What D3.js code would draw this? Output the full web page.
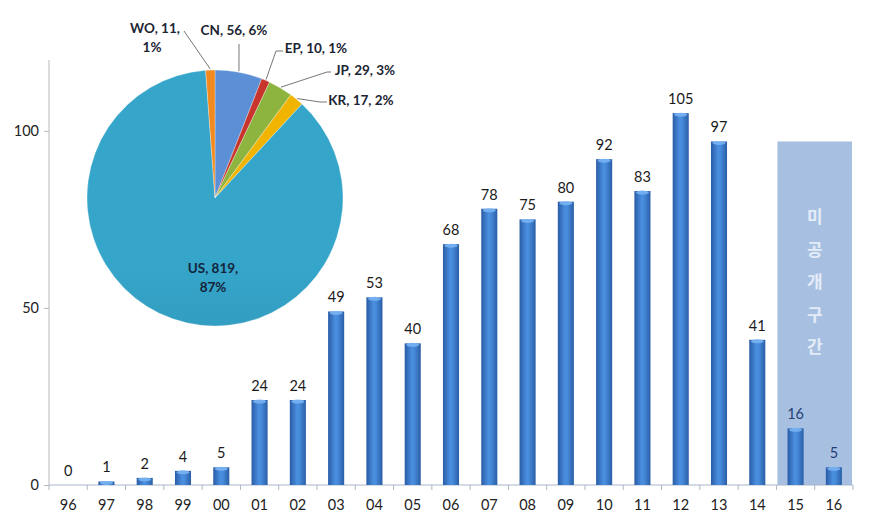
<!DOCTYPE html>
<html><head><meta charset="utf-8">
<script src="https://cdn.jsdelivr.net/npm/d3@7/dist/d3.min.js"></script>
<style>body{margin:0;background:#fff}svg{display:block}</style>
</head><body>
<svg id="c" width="871" height="523"></svg>
<script>
const years = ["96","97","98","99","00","01","02","03","04","05","06","07","08","09","10","11","12","13","14","15","16"];
const counts = [0,1,2,4,5,24,24,49,53,40,68,78,75,80,92,83,105,97,41,16,5];
const undisclosedYears = ["15","16"];
const undisclosedTop = 97;
const undisclosedText = ["미","공","개","구","간"];
const yTicks = [0,50,100];
const pieLabels = ["CN","EP","JP","KR","US","WO"];
const pieValues = [56,10,29,17,819,11];
const piePercents = ["6%","1%","3%","2%","87%","1%"];
const pieColors = ["#5b8fd6","#c8352c","#8cb43f","#f1b400","url(#usGrad)","#f28b1f"];

const svg = d3.select("#c");
const defs = svg.append("defs");
const bg = defs.append("linearGradient").attr("id","barGrad").attr("x1","0").attr("x2","1").attr("y1","0").attr("y2","0");
bg.append("stop").attr("offset","0").attr("stop-color","#295ca6");
bg.append("stop").attr("offset","0.45").attr("stop-color","#4b8fe0");
bg.append("stop").attr("offset","0.6").attr("stop-color","#468ada");
bg.append("stop").attr("offset","1").attr("stop-color","#2a5ea6");
const ug = defs.append("linearGradient").attr("id","usGrad").attr("gradientUnits","userSpaceOnUse")
  .attr("x1",0).attr("y1",70).attr("x2",0).attr("y2",327);
ug.append("stop").attr("offset","0").attr("stop-color","#35a5c9");
ug.append("stop").attr("offset","0.5").attr("stop-color","#2f95b7");
ug.append("stop").attr("offset","1").attr("stop-color","#28738c");

const x = d3.scaleBand().domain(years).range([49,853]).paddingInner(0.58).paddingOuter(0.29);
const xb = d3.scaleBand().domain(years).range([49,853]);
const y = d3.scaleLinear().domain([0,120]).range([485,60]);
const font = "Lato, 'Open Sans', sans-serif";

// undisclosed shaded region
const sx0 = xb(undisclosedYears[0]), sx1 = xb(undisclosedYears[undisclosedYears.length-1]) + xb.bandwidth();
svg.append("rect").attr("x",sx0+1).attr("y",y(undisclosedTop)).attr("width",sx1-sx0-2).attr("height",y(0)-y(undisclosedTop))
  .attr("fill","#a7c0e2");
svg.append("g").selectAll("text").data(undisclosedText).join("text")
  .attr("x",(sx0+sx1)/2).attr("y",(d,i)=>223+i*32.5).attr("text-anchor","middle")
  .attr("font-family","'Noto Sans CJK KR', sans-serif").attr("font-weight","bold").attr("font-size",17)
  .attr("fill","#e4ecf7").text(d=>d);

// axes
const yAxis = svg.append("g").attr("transform","translate(49,0)")
  .call(d3.axisLeft(y).tickValues(yTicks).tickSize(5).tickPadding(5));
yAxis.select(".domain").attr("stroke","#b9b9b9").attr("d","M0,60V485");
yAxis.selectAll(".tick line").attr("stroke","#b9b9b9");
yAxis.selectAll("text").attr("font-family",font).attr("font-size",14.5).attr("fill","#222");

const xAxis = svg.append("g").attr("transform","translate(0,485)")
  .call(d3.axisBottom(xb).tickSize(0).tickPadding(15));
xAxis.select(".domain").attr("stroke","#a9b6c9").attr("d","M49,0H853");
xAxis.selectAll("text").attr("font-family",font).attr("font-size",14.5).attr("fill","#222");
svg.append("g").selectAll("line").data(years.concat(["end"])).join("line")
  .attr("x1",(d,i)=>49+i*xb.step()).attr("x2",(d,i)=>49+i*xb.step())
  .attr("y1",485).attr("y2",490).attr("stroke","#a9b6c9");

// bars
const bars = svg.append("g");
years.forEach((yr,i)=>{
  const v = counts[i];
  if (v>0){
    bars.append("rect").attr("x",x(yr)).attr("y",y(v)).attr("width",x.bandwidth()).attr("height",y(0)-y(v))
      .attr("fill","url(#barGrad)");
    bars.append("ellipse").attr("cx",x(yr)+x.bandwidth()/2).attr("cy",y(v)+1.5).attr("rx",x.bandwidth()/2-1.5).attr("ry",2)
      .attr("fill","#78b2f2").attr("opacity",0.9);
  }
  const und = undisclosedYears.includes(yr);
  bars.append("text").attr("x",x(yr)+x.bandwidth()/2).attr("y",y(v)-9).attr("text-anchor","middle")
    .attr("font-family",font).attr("font-size",14.5).attr("fill",und?"#243f73":"#1a1a1a").text(v);
});

// pie
const cx=215, cy=198, r=128;
const pie = d3.pie().sort(null).value(d=>d)(pieValues);
const arc = d3.arc().innerRadius(0).outerRadius(r);
const pg = svg.append("g").attr("transform",`translate(${cx},${cy})`);
pg.selectAll("path").data(pie).join("path").attr("d",arc).attr("fill",(d,i)=>pieColors[i])
  .attr("stroke","#fff").attr("stroke-width",0.3);

// leader lines & labels
const lblFont = {family:"Lato, 'Open Sans', sans-serif", size:13.5};
function edge(i, frac){ const d=pie[i]; const a=d.startAngle+(d.endAngle-d.startAngle)*frac; return [cx+Math.sin(a)*(r+1), cy-Math.cos(a)*(r+1)]; }
const leaders = [
  {i:5, pts:[[184,31]], lines:[[pieLabels[5]+", "+pieValues[5]+",",155,33],[piePercents[5],152,52]]},
  {i:0, pts:[[239,44]], lines:[[pieLabels[0]+", "+pieValues[0]+", "+piePercents[0],234,35]]},
  {i:1, pts:[[283,51],[276,51]], lines:[[pieLabels[1]+", "+pieValues[1]+", "+piePercents[1],316,53]]},
  {i:2, pts:[[331,72],[327,72]], lines:[[pieLabels[2]+", "+pieValues[2]+", "+piePercents[2],365,75]]},
  {i:3, pts:[[327,102],[320,102]], lines:[[pieLabels[3]+", "+pieValues[3]+", "+piePercents[3],361,105]]}
];
const lg = svg.append("g");
leaders.forEach(L=>{
  const e = edge(L.i,0.5);
  const pts = L.pts.concat([e]);
  lg.append("path").attr("d",d3.line()(pts)).attr("fill","none").attr("stroke","#666").attr("stroke-width",0.9);
  L.lines.forEach(t=>{
    lg.append("text").attr("x",t[1]).attr("y",t[2]).attr("text-anchor","middle")
      .attr("font-family",lblFont.family).attr("font-weight","bold").attr("font-size",lblFont.size)
      .attr("fill","#1c2533").text(t[0]);
  });
});
// US label inside
const usI = 4;
lg.append("text").attr("x",213).attr("y",273).attr("text-anchor","middle")
  .attr("font-family",lblFont.family).attr("font-weight","bold").attr("font-size",lblFont.size)
  .attr("fill","#14243a").text(pieLabels[usI]+", "+pieValues[usI]+",");
lg.append("text").attr("x",213).attr("y",292).attr("text-anchor","middle")
  .attr("font-family",lblFont.family).attr("font-weight","bold").attr("font-size",lblFont.size)
  .attr("fill","#14243a").text(piePercents[usI]);
</script>
</body></html>
